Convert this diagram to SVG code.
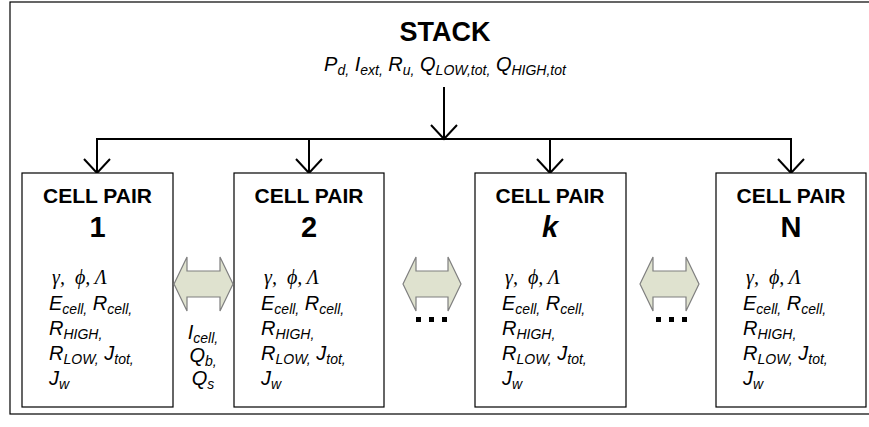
<svg xmlns="http://www.w3.org/2000/svg" width="869" height="427" viewBox="0 0 869 427">
<defs>
<style>
.frame{fill:#fff;stroke:#000;stroke-width:1.2}
.box{fill:#fff;stroke:#000;stroke-width:1.2}
.conn{fill:none;stroke:#000;stroke-width:2}
.head{fill:none;stroke:#000;stroke-width:2}
.dbl{fill:#dfe2cf;stroke:#7f7f7f;stroke-width:1.2}
.t{font-family:"Liberation Sans",Arial,sans-serif;fill:#000}
.b{font-weight:bold}
.i{font-style:italic}
.g{font-family:"Liberation Serif","Times New Roman",serif;font-style:italic;font-size:20px;white-space:pre}
.v{font-size:20px;font-style:italic}
.s{font-size:14px}
.dot{fill:#000}
</style>
</defs>
<rect class="frame" x="10" y="2" width="870" height="412"/>

<g id="stack">
<text class="t b" x="445" y="41" font-size="27" text-anchor="middle">STACK</text>
<text class="t i" x="445" y="71" font-size="20" text-anchor="middle">P<tspan class="s" dy="4">d,</tspan><tspan dy="-4"> I</tspan><tspan class="s" dy="4">ext,</tspan><tspan dy="-4"> R</tspan><tspan class="s" dy="4">u,</tspan><tspan dy="-4"> Q</tspan><tspan class="s" dy="4">LOW,tot,</tspan><tspan dy="-4"> Q</tspan><tspan class="s" dy="4">HIGH,tot</tspan></text>
</g>

<g id="connectors">
<line class="conn" x1="444" y1="87" x2="444" y2="139"/>
<polyline class="head" points="431,125 444,139 457,125"/>
<line class="conn" x1="96" y1="139" x2="792" y2="139"/>
<line class="conn" x1="97" y1="139" x2="97" y2="173"/>
<polyline class="head" points="84,159 97,173 110,159"/>
<line class="conn" x1="309" y1="139" x2="309" y2="173"/>
<polyline class="head" points="296,159 309,173 322,159"/>
<line class="conn" x1="550" y1="139" x2="550" y2="173"/>
<polyline class="head" points="537,159 550,173 563,159"/>
<line class="conn" x1="791" y1="139" x2="791" y2="173"/>
<polyline class="head" points="778,159 791,173 804,159"/>
</g>

<g id="cell1">
<rect class="box" x="22" y="173" width="151" height="234"/>
<text class="t b" x="97.5" y="203" font-size="21" text-anchor="middle">CELL PAIR</text>
<text class="t b" x="97.5" y="237" font-size="29" text-anchor="middle">1</text>
<text class="g" x="52" y="284">γ,  ϕ, Λ</text>
<text class="t v" x="49" y="310">E<tspan class="s" dy="4">cell,</tspan><tspan dy="-4"> R</tspan><tspan class="s" dy="4">cell,</tspan></text>
<text class="t v" x="49" y="335">R<tspan class="s" dy="4">HIGH,</tspan></text>
<text class="t v" x="49" y="360">R<tspan class="s" dy="4">LOW,</tspan><tspan dy="-4"> J</tspan><tspan class="s" dy="4">tot,</tspan></text>
<text class="t v" x="49" y="385">J<tspan class="s" dy="4">w</tspan></text>
</g>

<g id="cell2">
<rect class="box" x="234" y="173" width="150" height="234"/>
<text class="t b" x="309" y="203" font-size="21" text-anchor="middle">CELL PAIR</text>
<text class="t b" x="309" y="237" font-size="29" text-anchor="middle">2</text>
<text class="g" x="264" y="284">γ,  ϕ, Λ</text>
<text class="t v" x="261" y="310">E<tspan class="s" dy="4">cell,</tspan><tspan dy="-4"> R</tspan><tspan class="s" dy="4">cell,</tspan></text>
<text class="t v" x="261" y="335">R<tspan class="s" dy="4">HIGH,</tspan></text>
<text class="t v" x="261" y="360">R<tspan class="s" dy="4">LOW,</tspan><tspan dy="-4"> J</tspan><tspan class="s" dy="4">tot,</tspan></text>
<text class="t v" x="261" y="385">J<tspan class="s" dy="4">w</tspan></text>
</g>

<g id="cellk">
<rect class="box" x="475" y="173" width="151" height="234"/>
<text class="t b" x="550" y="203" font-size="21" text-anchor="middle">CELL PAIR</text>
<text class="t b i" x="550" y="237" font-size="29" text-anchor="middle">k</text>
<text class="g" x="505" y="284">γ,  ϕ, Λ</text>
<text class="t v" x="502" y="310">E<tspan class="s" dy="4">cell,</tspan><tspan dy="-4"> R</tspan><tspan class="s" dy="4">cell,</tspan></text>
<text class="t v" x="502" y="335">R<tspan class="s" dy="4">HIGH,</tspan></text>
<text class="t v" x="502" y="360">R<tspan class="s" dy="4">LOW,</tspan><tspan dy="-4"> J</tspan><tspan class="s" dy="4">tot,</tspan></text>
<text class="t v" x="502" y="385">J<tspan class="s" dy="4">w</tspan></text>
</g>

<g id="cellN">
<rect class="box" x="716" y="173" width="150" height="234"/>
<text class="t b" x="791" y="203" font-size="21" text-anchor="middle">CELL PAIR</text>
<text class="t b" x="791" y="237" font-size="29" text-anchor="middle">N</text>
<text class="g" x="746" y="284">γ,  ϕ, Λ</text>
<text class="t v" x="743" y="310">E<tspan class="s" dy="4">cell,</tspan><tspan dy="-4"> R</tspan><tspan class="s" dy="4">cell,</tspan></text>
<text class="t v" x="743" y="335">R<tspan class="s" dy="4">HIGH,</tspan></text>
<text class="t v" x="743" y="360">R<tspan class="s" dy="4">LOW,</tspan><tspan dy="-4"> J</tspan><tspan class="s" dy="4">tot,</tspan></text>
<text class="t v" x="743" y="385">J<tspan class="s" dy="4">w</tspan></text>
</g>

<g id="exchange1">
<path class="dbl" d="M174,284 L187,257 L187,271 L220,271 L220,257 L233,284 L220,311 L220,297 L187,297 L187,311 Z"/>
<text class="t v" x="203" y="339" text-anchor="middle">I<tspan class="s" dy="4">cell,</tspan></text>
<text class="t v" x="203" y="362" text-anchor="middle">Q<tspan class="s" dy="4">b,</tspan></text>
<text class="t v" x="203" y="385" text-anchor="middle">Q<tspan class="s" dy="4">s</tspan></text>
</g>

<g id="exchange2">
<path class="dbl" d="M403,284 L416,257 L416,271 L448,271 L448,257 L461,284 L448,311 L448,297 L416,297 L416,311 Z"/>
<rect class="dot" x="416" y="317" width="5" height="5"/>
<rect class="dot" x="429" y="317" width="5" height="5"/>
<rect class="dot" x="442" y="317" width="5" height="5"/>
</g>

<g id="exchange3">
<path class="dbl" d="M640,284 L653,257 L653,271 L686,271 L686,257 L699,284 L686,311 L686,297 L653,297 L653,311 Z"/>
<rect class="dot" x="656" y="317" width="5" height="5"/>
<rect class="dot" x="669" y="317" width="5" height="5"/>
<rect class="dot" x="682" y="317" width="5" height="5"/>
</g>
</svg>
